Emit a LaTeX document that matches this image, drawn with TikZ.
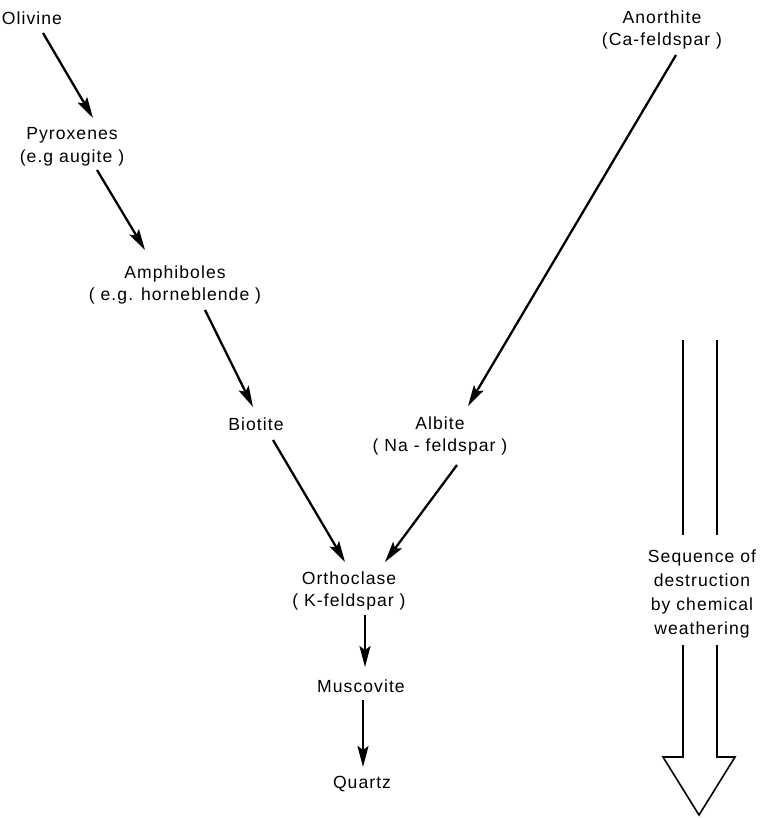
\documentclass[tikz,border=0pt]{standalone}
\usepackage{fontspec}
\setmainfont{Liberation Sans}[LetterSpace=6]
\usetikzlibrary{arrows.meta,calc}

\begin{document}
\begin{tikzpicture}[x=0.02cm,y=-0.02cm,
  mineral/.style={align=center,inner sep=1pt,font=\fontsize{10}{13}\selectfont},
  flow/.style={line width=1.3pt,-{Stealth[length=4.2mm,width=2.2mm,inset=0.8mm]}},
  hollow/.style={line width=0.9pt,line join=miter}]
\useasboundingbox (0,0) rectangle (764,818);

% Place the minerals of the two series.
\node[mineral] (olivine) at (32,18) {Olivine};
\node[mineral] (pyrox) at (72,147) {Pyroxenes\\(e.g augite )};
\node[mineral] (amph) at (175,285) {Amphiboles\\( e.g. horneblende )};
\node[mineral] (biotite) at (256,424) {Biotite};
\node[mineral] (anorth) at (662,30) {Anorthite\\(Ca-feldspar )};
\node[mineral] (albite) at (440,436) {Albite\\( Na - feldspar )};
\node[mineral] (ortho) at (349,591) {Orthoclase\\( K-feldspar )};
\node[mineral] (musc) at (361,686) {Muscovite};
\node[mineral] (quartz) at (362,784) {Quartz};

% Left branch.
\draw[flow] ([shift={(11,15)}]olivine.center) -- ([shift={(21,-29)}]pyrox.center);
\draw[flow] ([shift={(25,23)}]pyrox.center) -- ([shift={(-30,-35)}]amph.center);
\draw[flow] ([shift={(30,25)}]amph.center) -- ([shift={(-3,-17)}]biotite.center);
\draw[flow] ([shift={(17,16)}]biotite.center) -- ([shift={(-4,-29)}]ortho.center);

% Right branch.
\draw[flow] ([shift={(14,25)}]anorth.center) -- ([shift={(28,-30)}]albite.center);
\draw[flow] ([shift={(17,29)}]albite.center) -- ([shift={(36,-29)}]ortho.center);

% Common stem.
\draw[flow] ([shift={(16,24)}]ortho.center) -- ([shift={(4,-19)}]musc.center);
\draw[flow] ([shift={(2,14)}]musc.center) -- ([shift={(1,-17)}]quartz.center);

% The hollow arrow with its caption.
\node[mineral,font=\fontsize{10}{13.6}\selectfont] (seq) at (702,594)
  {Sequence of\\destruction\\by chemical\\weathering};
\draw[hollow] (683,340) -- (683,535) (717,340) -- (717,535);
\draw[hollow] (683,645) -- (683,757) -- (663,757) -- (699,815)
  -- (735,757) -- (717,757) -- (717,645);

\end{tikzpicture}
\end{document}
